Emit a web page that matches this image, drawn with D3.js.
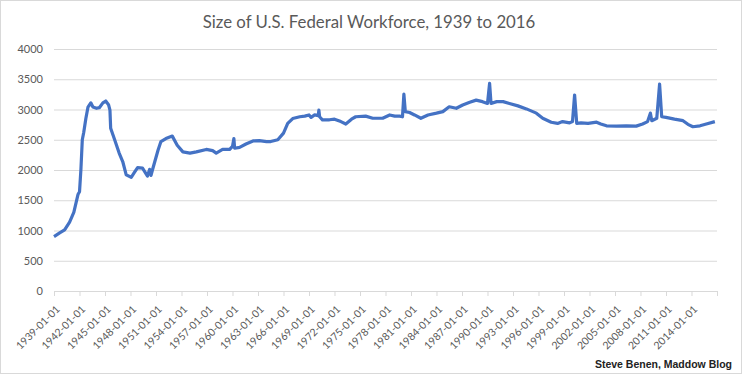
<!DOCTYPE html>
<html>
<head>
<meta charset="utf-8">
<script src="https://cdn.jsdelivr.net/npm/d3@7"></script>
<style>
  body { margin: 0; background: #fff; }
  text { font-family: Lato, "Open Sans", sans-serif; }
</style>
</head>
<body>
<div id="chart"></div>
<script>
// federal workforce, thousands
var dates = ["1939-01","1939-09","1940-04","1940-11","1941-05","1941-11","1942-01","1942-03","1942-05","1942-07","1942-10",
  "1943-01","1943-05","1943-08","1944-01","1944-05","1944-10","1945-02","1945-06","1945-08","1945-09","1946-02","1946-09",
  "1947-02","1947-07","1948-02","1948-07","1948-11","1949-06","1950-01","1950-04","1950-06","1950-08","1951-04","1951-08",
  "1952-03","1952-12","1953-07","1954-03","1955-01","1955-10","1956-12","1957-09","1958-02","1958-11","1959-09","1960-01",
  "1960-03","1960-04","1960-11","1961-08","1962-06","1963-03","1964-01","1964-07","1965-05","1966-01","1966-07","1967-02",
  "1967-12","1968-07","1969-01","1969-04","1969-09","1970-02","1970-03","1970-04","1970-08","1971-06","1972-01","1972-10",
  "1973-05","1974-01","1974-07","1975-09","1976-07","1977-09","1978-07","1979-02","1979-09","1980-01","1980-03","1980-05",
  "1980-11","1981-06","1982-03","1983-01","1984-01","1984-10","1985-07","1986-05","1987-02","1987-12","1988-09","1989-06",
  "1990-01","1990-04","1990-06","1991-02","1991-11","1992-08","1993-08","1994-08","1995-10","1996-07","1997-07","1998-04",
  "1998-11","1999-09","2000-01","2000-04","2000-07","2001-01","2001-11","2002-11","2003-05","2004-01","2005-03","2006-05",
  "2007-07","2008-04","2008-11","2009-03","2009-05","2009-12","2010-04","2010-07","2011-01","2012-01","2013-01","2013-08",
  "2014-03","2015-01","2015-10","2016-10"];
var workforce = [900,960,1010,1140,1300,1600,1640,2000,2500,2620,2850,
  3040,3110,3040,3020,3030,3110,3140,3080,2990,2690,2520,2280,
  2140,1920,1880,1970,2040,2030,1900,2010,1910,2000,2330,2470,
  2520,2560,2410,2300,2280,2300,2340,2320,2280,2340,2340,2390,
  2520,2360,2375,2430,2480,2485,2470,2470,2500,2610,2770,2850,
  2880,2890,2910,2870,2910,2900,2990,2880,2830,2830,2840,2800,
  2760,2840,2880,2890,2855,2855,2910,2890,2890,2880,3256,2965,
  2950,2910,2855,2910,2940,2965,3045,3020,3075,3120,3155,3130,
  3100,3433,3100,3130,3130,3100,3060,3010,2940,2855,2790,2770,
  2800,2780,2800,3240,2770,2780,2770,2790,2760,2730,2725,2730,
  2725,2760,2800,2940,2815,2855,3420,2880,2870,2840,2815,2755,
  2715,2730,2760,2800];
var tickLabels = ["1939-01-01","1942-01-01","1945-01-01","1948-01-01","1951-01-01","1954-01-01","1957-01-01",
  "1960-01-01","1963-01-01","1966-01-01","1969-01-01","1972-01-01","1975-01-01","1978-01-01","1981-01-01",
  "1984-01-01","1987-01-01","1990-01-01","1993-01-01","1996-01-01","1999-01-01","2002-01-01","2005-01-01",
  "2008-01-01","2011-01-01","2014-01-01"];
var yTicks = [0,500,1000,1500,2000,2500,3000,3500,4000];
var axisEnd = "2017-01-01";

var W = 742, H = 374;
var margin = {top: 49, right: 25, bottom: 83, left: 54};
var width = W - margin.left - margin.right, height = H - margin.top - margin.bottom;

var parseM = d3.timeParse("%Y-%m"), parseD = d3.timeParse("%Y-%m-%d"), fmt = d3.timeFormat("%Y-%m-%d");
var data = dates.map(function(d, i) { return {date: parseM(d), value: workforce[i]}; });

var svg = d3.select("#chart").append("svg").attr("width", W).attr("height", H);
svg.append("rect").attr("x", 0.5).attr("y", 0.5).attr("width", W - 1).attr("height", H - 1)
  .attr("fill", "#fff").attr("stroke", "#d9d9d9");

var g = svg.append("g").attr("transform", "translate(" + margin.left + "," + margin.top + ")");

var x = d3.scaleTime().domain([parseD(tickLabels[0]), parseD(axisEnd)]).range([0, width]);
var y = d3.scaleLinear().domain([0, 4000]).range([height, 0]);

// gridlines + y labels
var ya = g.append("g").call(d3.axisLeft(y).tickValues(yTicks).tickFormat(d3.format("d")).tickSize(-width).tickPadding(11));
ya.select(".domain").remove();
ya.selectAll(".tick line").attr("stroke", "#d9d9d9");
ya.selectAll(".tick text").attr("fill", "#595959").style("font-size", "11px");

// x axis
var xa = g.append("g").attr("transform", "translate(0," + height + ")")
  .call(d3.axisBottom(x).tickValues(tickLabels.concat([axisEnd]).map(parseD)).tickSize(5)
    .tickFormat(function(d) { return fmt(d) === axisEnd ? "" : fmt(d); }));
xa.select(".domain").attr("stroke", "#d9d9d9");
xa.selectAll(".tick line").attr("stroke", "#d9d9d9");
xa.selectAll(".tick text").attr("fill", "#595959").style("font-size", "10.5px")
  .attr("text-anchor", "end").attr("dy", null).attr("y", 0)
  .attr("transform", "translate(6,19) rotate(-45)");

// line
g.append("path").datum(data).attr("fill", "none").attr("stroke", "#4472c4").attr("stroke-width", 3.2)
  .attr("stroke-linejoin", "round")
  .attr("d", d3.line().x(function(d) { return x(d.date); }).y(function(d) { return y(d.value); }));

svg.append("text").attr("x", 369).attr("y", 28).attr("text-anchor", "middle")
  .attr("fill", "#595959").style("font-size", "16.8px").text("Size of U.S. Federal Workforce, 1939 to 2016");

svg.append("text").attr("x", 732).attr("y", 368).attr("text-anchor", "end")
  .style("font-family", "'Liberation Sans', Arial, sans-serif").style("font-weight", "bold")
  .style("font-size", "10.5px").attr("fill", "#222").text("Steve Benen, Maddow Blog");
</script>
</body>
</html>
